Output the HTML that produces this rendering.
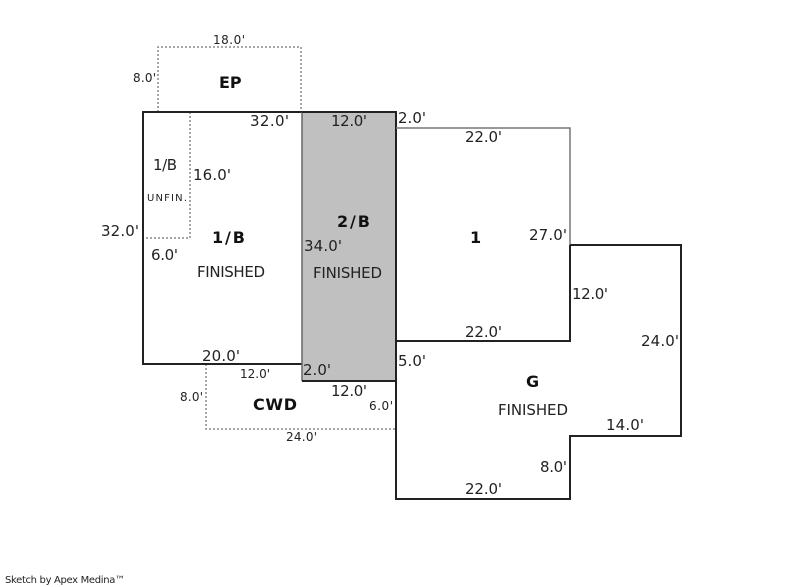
<!DOCTYPE html>
<html><head><meta charset="utf-8"><style>
html,body{margin:0;padding:0;background:#fff;}
svg{display:block;font-family:"DejaVu Sans","Liberation Sans",sans-serif;}
.d{font-size:15px;fill:#222;}
.s{font-size:12px;fill:#222;}
.b{font-size:16px;font-weight:bold;fill:#111;}
</style></head><body>
<svg width="800" height="587" viewBox="0 0 800 587" xmlns="http://www.w3.org/2000/svg">
<rect x="302" y="112" width="94" height="269" fill="#c0c0c0"/>
<polyline points="158,112 158,47 301,47 301,112" fill="none" stroke="#888" stroke-width="1.5" stroke-dasharray="2,2"/>
<polyline points="190,112 190,238 143,238" fill="none" stroke="#888" stroke-width="1.5" stroke-dasharray="2,2"/>
<polyline points="206,364 206,429 396,429" fill="none" stroke="#888" stroke-width="1.5" stroke-dasharray="2,2"/>
<polyline points="302,112 143,112 143,364 302,364" fill="none" stroke="#222" stroke-width="2"/>
<line x1="302" y1="112" x2="302" y2="381" stroke="#666" stroke-width="1.5"/>
<polyline points="302,112 396,112 396,381 302,381" fill="none" stroke="#222" stroke-width="2"/>
<polyline points="396,128 570,128 570,245" fill="none" stroke="#777" stroke-width="1.5"/>
<polyline points="570,245 570,341 396,341" fill="none" stroke="#222" stroke-width="2"/>
<polyline points="570,245 681,245 681,436 570,436 570,499 396,499 396,381" fill="none" stroke="#222" stroke-width="2"/>
<text class="s" x="213" y="44" textLength="32">18.0'</text>
<text class="s" x="133" y="82" textLength="23">8.0'</text>
<text class="b" x="219" y="88">EP</text>
<text class="d" x="250" y="126" textLength="39">32.0'</text>
<text class="d" x="331" y="126" textLength="36">12.0'</text>
<text class="d" x="398" y="123" textLength="28">2.0'</text>
<text class="d" x="465" y="142" textLength="37">22.0'</text>
<text class="d" x="153" y="170" textLength="24">1/B</text>
<text class="d" x="193" y="180" textLength="38">16.0'</text>
<text x="147" y="201" font-size="10" fill="#222" textLength="40">UNFIN.</text>
<text class="b" x="337" y="227" textLength="33">2/B</text>
<text class="d" x="101" y="236" textLength="38">32.0'</text>
<text class="b" x="212" y="243" textLength="33">1/B</text>
<text class="b" x="470" y="243">1</text>
<text class="d" x="529" y="240" textLength="38">27.0'</text>
<text class="d" x="304" y="251" textLength="38">34.0'</text>
<text class="d" x="151" y="260" textLength="27">6.0'</text>
<text class="d" x="197" y="277" textLength="68">FINISHED</text>
<text class="d" x="313" y="278" textLength="69">FINISHED</text>
<text class="d" x="572" y="299" textLength="36">12.0'</text>
<text class="d" x="465" y="337" textLength="37">22.0'</text>
<text class="d" x="641" y="346" textLength="38">24.0'</text>
<text class="d" x="202" y="361" textLength="38">20.0'</text>
<text class="d" x="398" y="366" textLength="28">5.0'</text>
<text class="s" x="240" y="378" textLength="30">12.0'</text>
<text class="d" x="303" y="375" textLength="28">2.0'</text>
<text class="b" x="526" y="387">G</text>
<text class="d" x="331" y="396" textLength="36">12.0'</text>
<text class="s" x="180" y="401" textLength="23">8.0'</text>
<text class="b" x="253" y="410" textLength="44">CWD</text>
<text class="s" x="369" y="410" textLength="24">6.0'</text>
<text class="d" x="498" y="415" textLength="70">FINISHED</text>
<text class="d" x="606" y="430" textLength="38">14.0'</text>
<text class="s" x="286" y="441" textLength="31">24.0'</text>
<text class="d" x="540" y="472" textLength="27">8.0'</text>
<text class="d" x="465" y="494" textLength="37">22.0'</text>
<text x="5" y="583" font-size="10" fill="#222" textLength="120">Sketch by Apex Medina™</text>
</svg>
</body></html>
